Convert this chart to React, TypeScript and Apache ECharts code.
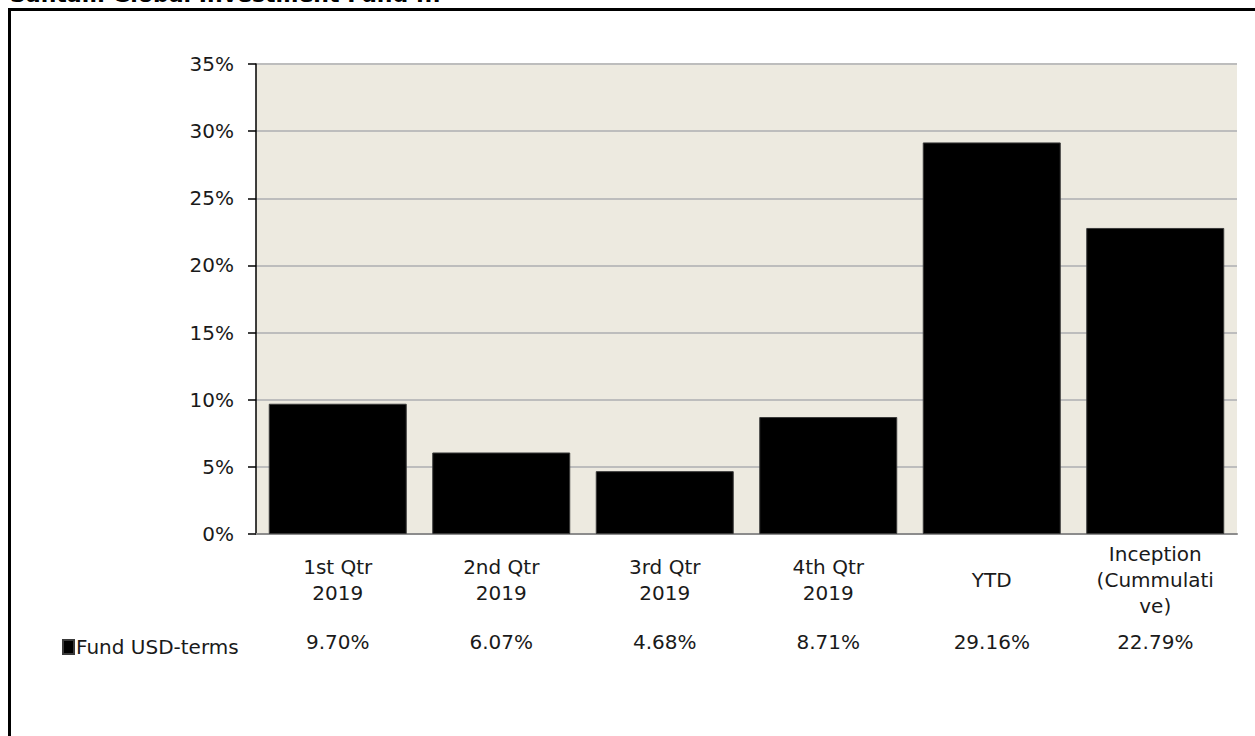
import React, { useEffect, useRef } from "react";
import * as echarts from "echarts";

const categories = ["1st Qtr\n2019", "2nd Qtr\n2019", "3rd Qtr\n2019", "4th Qtr\n2019", "YTD", "Inception\n(Cummulati\nve)"];
const fundValues = [9.70, 6.07, 4.68, 8.71, 29.16, 22.79];
const seriesName = "Fund USD-terms";
const titleText = "Santam Global Investment Fund ...";
const yMin = 0;
const yMax = 35;
const yStep = 5;

const FONT = "DejaVu Sans";

export default function App() {
  const ref = useRef<HTMLDivElement>(null);
  useEffect(() => {
    if (!ref.current) return;
    const chart = echarts.init(ref.current, undefined, { renderer: "svg" });
    const valueLabels = fundValues.map((v) => v.toFixed(2) + "%");
    chart.setOption({
      animation: false,
      backgroundColor: "#ffffff",
      textStyle: { fontFamily: FONT },
      grid: { left: 256, top: 64, right: 18, bottom: 202, show: true, backgroundColor: "#EDEAE0", borderWidth: 0 },
      legend: {
        data: [seriesName],
        left: 57,
        top: 632,
        icon: "rect",
        itemWidth: 11,
        itemHeight: 14,
        itemGap: 0,
        textStyle: { fontFamily: FONT, fontSize: 20, color: "#1a1a1a", padding: [0, 0, 0, -3] },
      },
      xAxis: [
        {
          type: "category",
          data: categories,
          gridIndex: 0,
          position: "bottom",
          axisLine: { show: true, lineStyle: { color: "#8c8c8c", width: 2 } },
          axisTick: { show: false },
          axisLabel: {
            interval: 0,
            margin: 46,
            verticalAlign: "middle",
            lineHeight: 26,
            fontSize: 20,
            fontFamily: FONT,
            color: "#1a1a1a",
          },
        },
        {
          type: "category",
          data: valueLabels,
          gridIndex: 0,
          position: "bottom",
          offset: 0,
          axisLine: { show: false },
          axisTick: { show: false },
          axisLabel: {
            interval: 0,
            margin: 108,
            verticalAlign: "middle",
            fontSize: 20,
            fontFamily: FONT,
            color: "#1a1a1a",
          },
        },
      ],
      yAxis: {
        type: "value",
        min: yMin,
        max: yMax,
        interval: yStep,
        axisLine: { show: true, lineStyle: { color: "#000000", width: 1.5 } },
        axisTick: { show: true, length: 8, lineStyle: { color: "#000000", width: 1.5 } },
        axisLabel: { formatter: "{value}%", margin: 22, fontSize: 20, fontFamily: FONT, color: "#1a1a1a" },
        splitLine: { show: true, lineStyle: { color: "#BDBDBD", width: 2 } },
      },
      series: [
        {
          name: seriesName,
          type: "bar",
          xAxisIndex: 0,
          data: fundValues,
          barCategoryGap: "15.6%",
          itemStyle: { color: "#000000", borderColor: "#3a3a3a", borderWidth: 1 },
        },
      ],
      graphic: [
        {
          type: "rect",
          shape: { x: 9.5, y: 9.5, width: 1400, height: 900 },
          style: { fill: "none", stroke: "#000000", lineWidth: 3 },
          silent: true,
        },
        {
          type: "text",
          left: 10,
          top: -17,
          style: { text: titleText, font: "bold 22px 'DejaVu Sans'", fill: "#000000" },
          silent: true,
        },
      ],
    });
    return () => chart.dispose();
  }, []);
  return <div ref={ref} style={{ position: "fixed", left: 0, top: 0, width: 1255, height: 736 }} />;
}
